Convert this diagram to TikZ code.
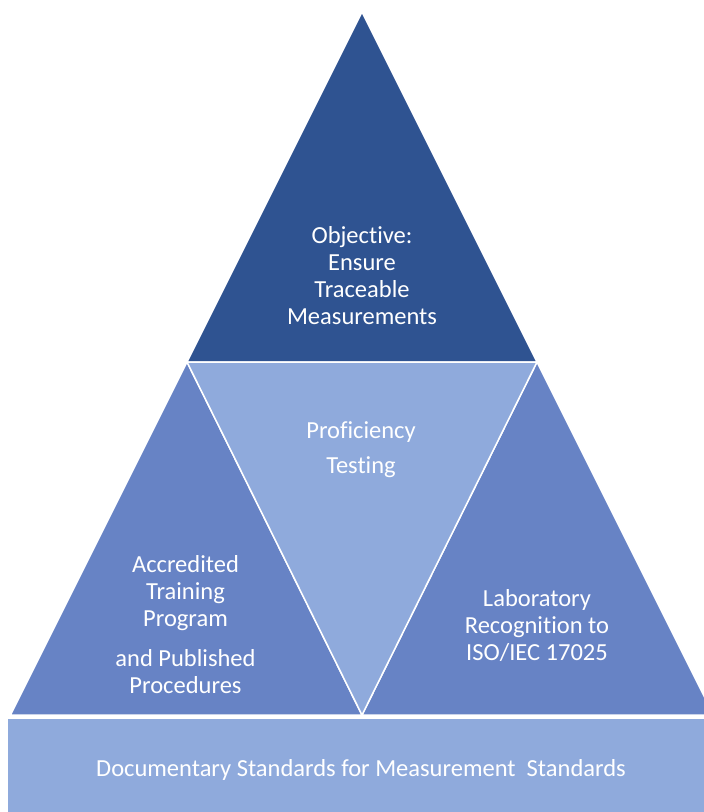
\documentclass[tikz,border=0pt]{standalone}
\usepackage{fontspec}
\setmainfont{Carlito}[Ligatures=NoCommon]

\definecolor{topblue}{HTML}{2F5391}
\definecolor{sideblue}{HTML}{6783C5}
\definecolor{paleblue}{HTML}{8FAADC}

\tikzset{
  part/.style={draw=white,line width=1.5pt,line join=miter},
  label/.style={text=white,align=center,inner sep=0pt,font=\fontsize{24.5}{27}\selectfont}
}

\begin{document}
\begin{tikzpicture}[x=1pt,y=-1pt]
            \useasboundingbox (0,0) rectangle (704,812);

            % Draw the pyramid
            \draw[part,fill=topblue] (362,12) -- (537,362) -- (187,362) -- cycle;
            \draw[part,fill=sideblue] (10.5,715) -- (187,362) -- (362,715) -- cycle;
            \draw[part,fill=sideblue] (362,715) -- (537,362) -- (713.5,715) -- cycle;
            \draw[part,fill=paleblue] (187,362) -- (537,362) -- (362,715) -- cycle;

            % Draw the base
            \fill[paleblue] (8,718.5) rectangle (710,812);

            % Texts
            \node[label] (objective) at (362,275.5) {Objective:\\Ensure\\Traceable\\Measurements};
            \node[label] (proficiency) at (361,450) {Proficiency\\[8pt]Testing};
            \node[label] (training) at (185.5,625) {Accredited\\Training\\Program\\[13pt]and Published\\Procedures};
            \node[label] (laboratory) at (537,626) {Laboratory\\Recognition to\\ISO/IEC 17025};
            \node[label] (documentary) at (361,769.5) {Documentary Standards for Measurement~ Standards};

        \end{tikzpicture}
\end{document}
